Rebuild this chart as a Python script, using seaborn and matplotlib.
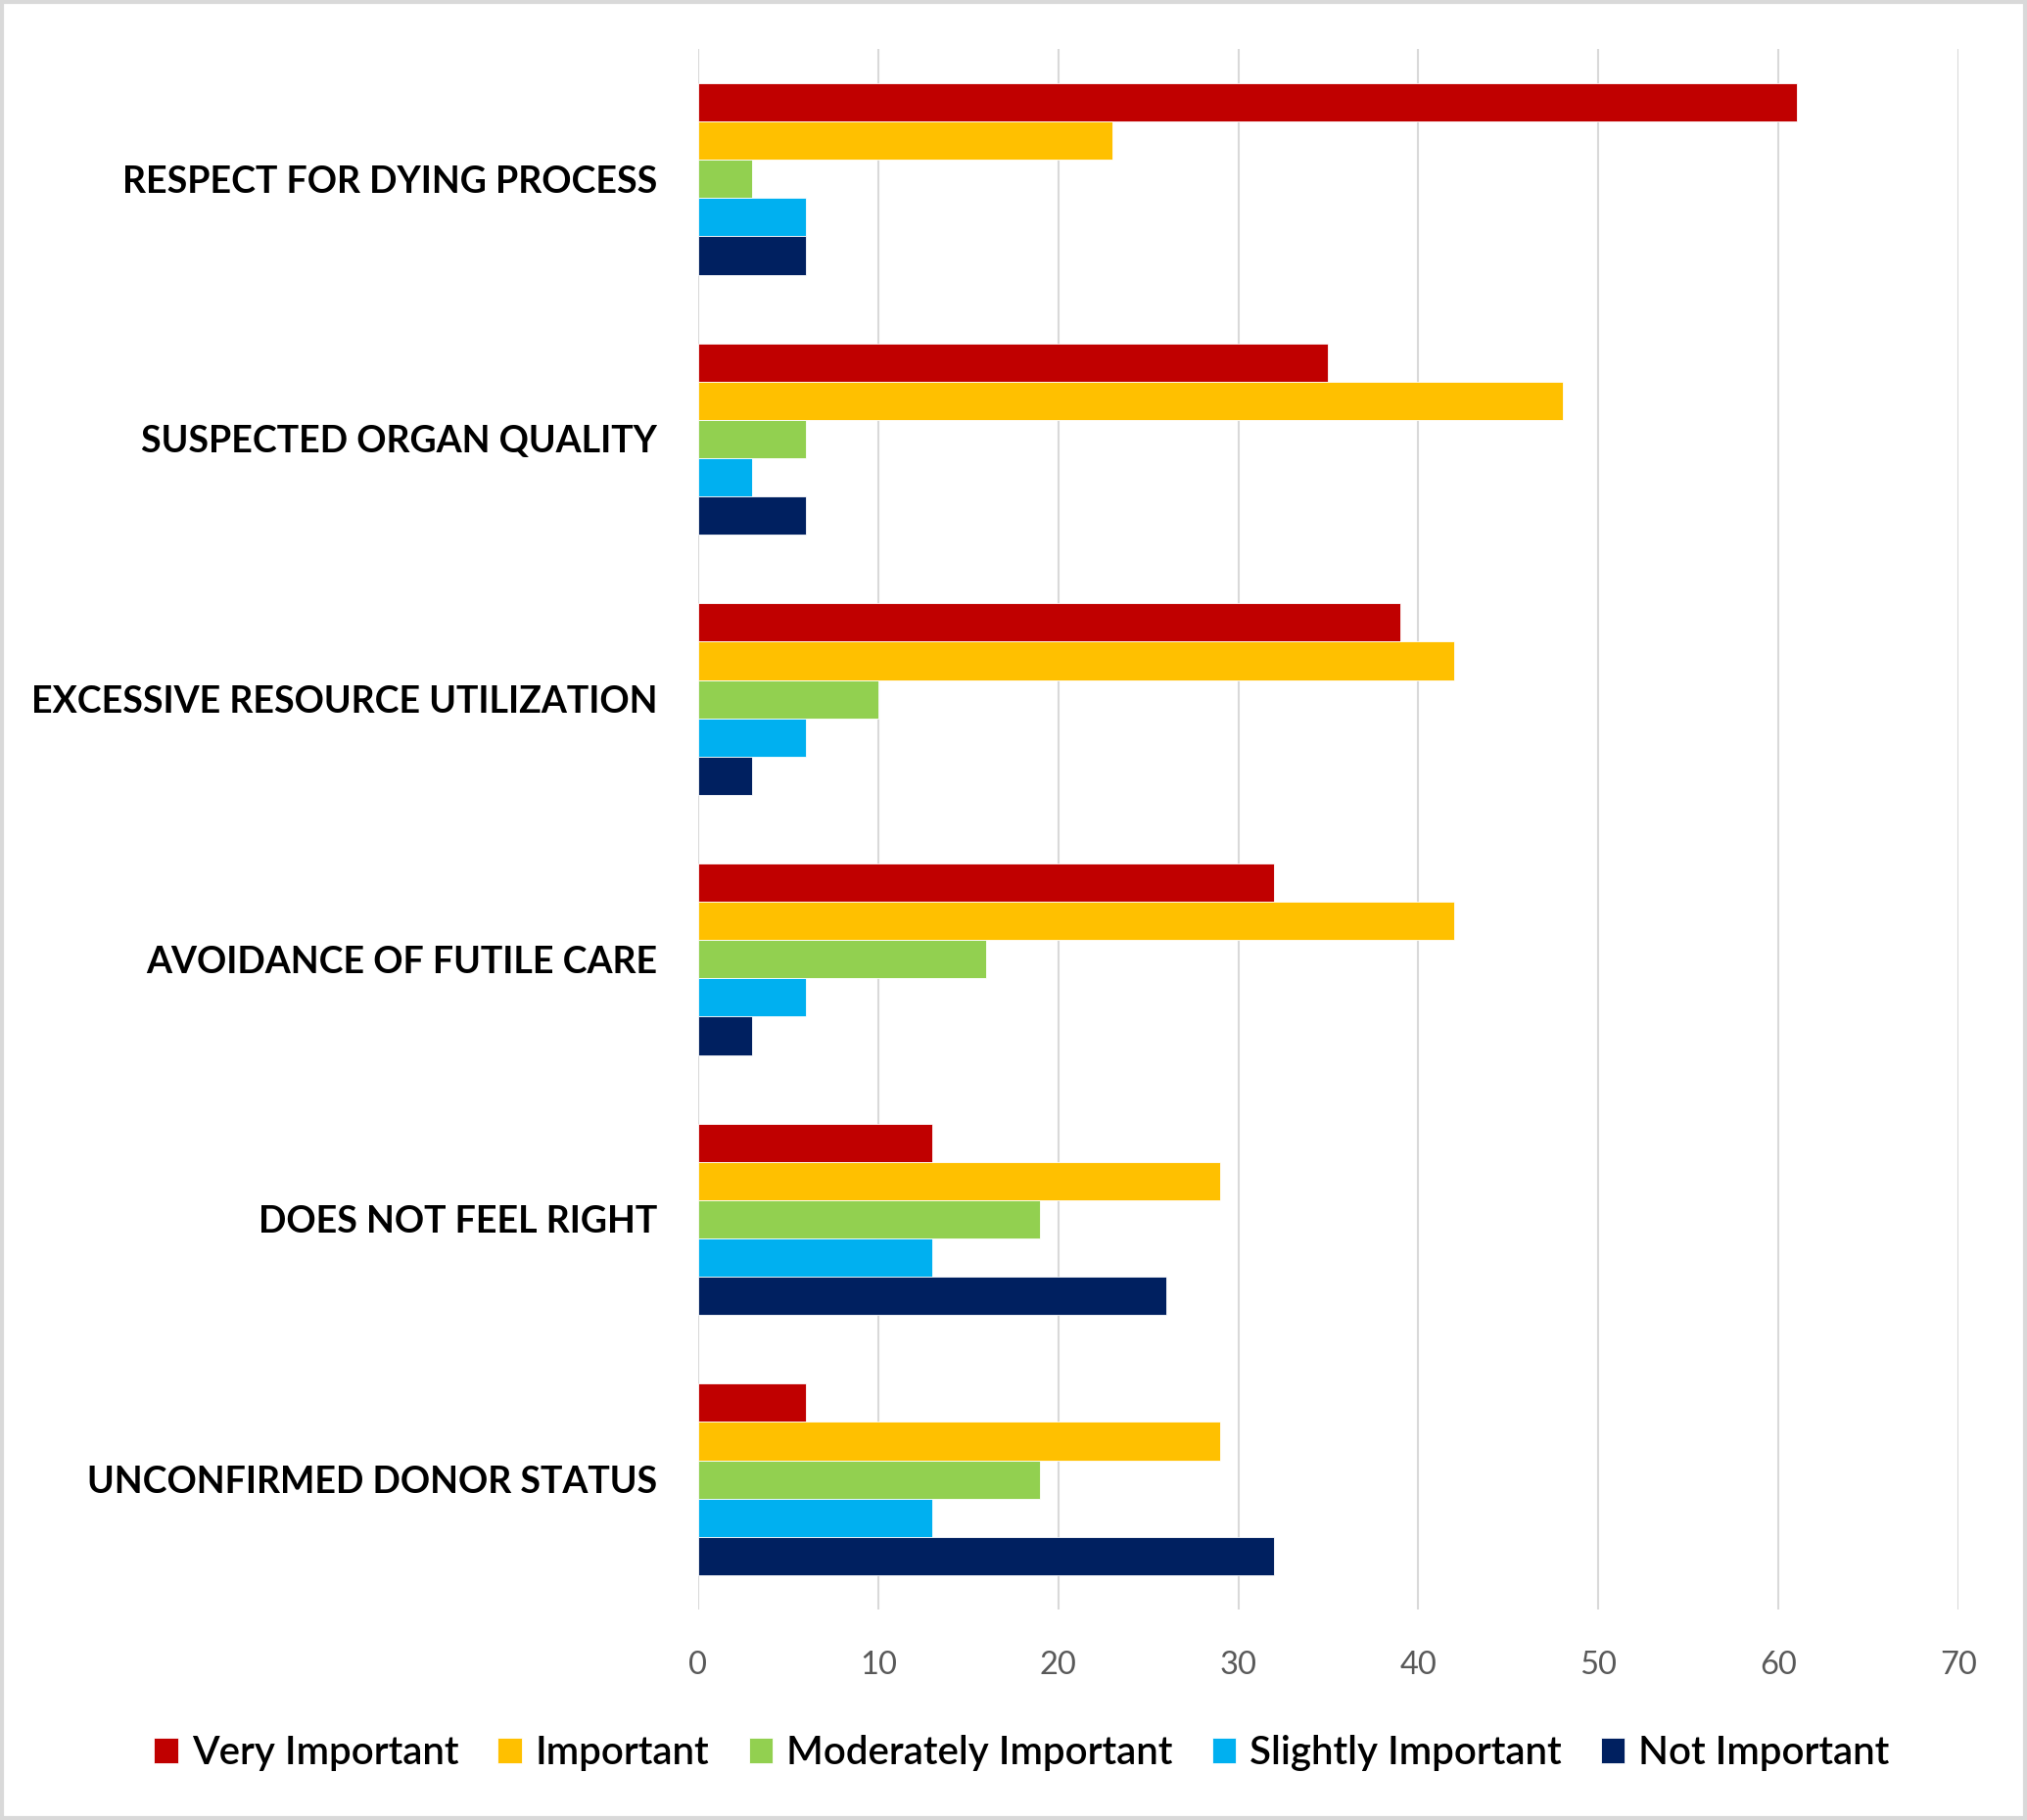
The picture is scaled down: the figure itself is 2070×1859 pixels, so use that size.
import pandas as pd
import seaborn as sns
import matplotlib.pyplot as plt
from matplotlib.patches import Rectangle

categories = ['RESPECT FOR DYING PROCESS', 'SUSPECTED ORGAN QUALITY', 'EXCESSIVE RESOURCE UTILIZATION',
              'AVOIDANCE OF FUTILE CARE', 'DOES NOT FEEL RIGHT', 'UNCONFIRMED DONOR STATUS']
levels = ['Very Important', 'Important', 'Moderately Important', 'Slightly Important', 'Not Important']
very_important = [61, 35, 39, 32, 13, 6]
important = [23, 48, 42, 42, 29, 29]
moderately_important = [3, 6, 10, 16, 19, 19]
slightly_important = [6, 3, 6, 6, 13, 13]
not_important = [6, 6, 3, 3, 26, 32]
colors = ['#C00000', '#FFC000', '#92D050', '#00B0F0', '#002060']

series = [very_important, important, moderately_important, slightly_important, not_important]
rows = []
for lvl, vals in zip(levels, series):
    for cat, v in zip(categories, vals):
        rows.append({'category': cat, 'level': lvl, 'value': v})
df = pd.DataFrame(rows)

sns.set_style('white')
plt.rcParams['font.family'] = ['Lato', 'DejaVu Sans']

fig = plt.figure(figsize=(20.7, 18.59), dpi=100)
ax = fig.add_axes([0.3444, 0.1157, 0.6218, 0.8574])

sns.barplot(data=df, y='category', x='value', hue='level', order=categories, hue_order=levels,
            palette=colors, orient='h', width=0.736, dodge=True, ax=ax, saturation=1,
            edgecolor='white', linewidth=0.6, legend=True)

ax.set_xlim(0, 70)
ax.set_ylim(len(categories) - 0.5, -0.5)
ax.set_xticks(range(0, 71, 10))
ax.xaxis.grid(True, color='#D9D9D9', linewidth=1.5)
ax.set_axisbelow(True)
for s in ax.spines.values():
    s.set_visible(False)
ax.set_xlabel('')
ax.set_ylabel('')
ax.tick_params(axis='both', length=0)
ax.tick_params(axis='x', pad=30, labelsize=23.5, labelcolor='#595959')
ax.tick_params(axis='y', pad=30, labelsize=27, labelcolor='black')
for t in ax.get_yticklabels():
    t.set_fontweight('bold')

handles, labels = ax.get_legend_handles_labels()
ax.legend_.remove()
leg = fig.legend(handles, labels, loc='center', bbox_to_anchor=(0.504, 0.0366), ncol=5, frameon=False,
                 prop={'size': 29, 'weight': 'semibold'}, handlelength=0.6, handleheight=0.6,
                 handletextpad=0.35, columnspacing=1.0)
for t in leg.get_texts():
    t.set_color('black')

fig.patches.append(Rectangle((0.001, 0.001), 0.998, 0.998, transform=fig.transFigure,
                             fill=False, edgecolor='#D9D9D9', linewidth=3))

fig.savefig('out.png', dpi=100)
